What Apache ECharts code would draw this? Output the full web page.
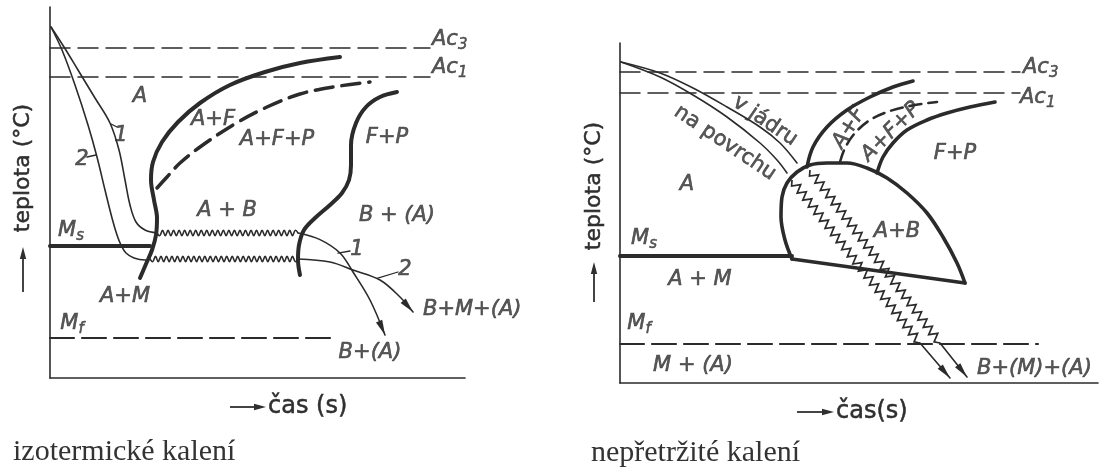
<!DOCTYPE html>
<html>
<head>
<meta charset="utf-8">
<script src="https://cdn.jsdelivr.net/npm/echarts@6/dist/echarts.min.js"></script>
<style>
  html, body { margin: 0; padding: 0; background: #ffffff; }
  #chart { width: 1102px; height: 467px; }
</style>
</head>
<body>
<div id="chart"></div>
<script>
// ---------- Isothermal quenching (left diagram): time [s], temperature [°C] ----------
const isoAc3 = [[0, 825], [380, 825]];
const isoAc1 = [[0, 752.5], [380, 752.5]];
const isoMs = [[0, 330], [100, 330]];
const isoMf = [[0, 100], [280, 100]];
// cooling curve 1 (core) and 2 (surface) down to the holding temperature
const isoCool1 = [[1, 877.5], [14, 827.5], [28, 770], [45, 700], [60, 637.5], [69, 570], [75, 495], [80, 432.5], [86, 390], [95, 370], [107, 362.5]];
const isoCool2 = [[1, 877.5], [12, 820], [25, 732.5], [38, 632.5], [47, 552.5], [55, 470], [62, 400], [67, 357.5], [71, 332.5], [76, 312.5], [84, 300], [95, 295], [100, 297.5]];
// isothermal holds (drawn wavy) [t0, T0, t1, T1]
const isoHolds = [[107, 362.5, 248, 362.5], [100, 297.5, 248, 297.5]];
// final cooling after the hold
const isoTail1 = [[248, 362.5], [270, 346], [290, 312.5], [303, 265], [320, 195], [335, 107.5]];
const isoTail2 = [[248, 297.5], [280, 290], [303, 270], [330, 245], [350, 202.5], [363, 165]];
// transformation start / finish lines
const isoFerrite = [[290, 802.5], [250, 787.5], [215, 765], [180, 732.5], [150, 687.5], [128, 640], [112, 590], [103, 540], [101, 495], [104, 445], [107, 400], [106, 357.5], [102, 320], [96, 285], [90, 250]];
const isoPearlite = [[107, 475], [117, 502.5], [130, 537.5], [150, 577.5], [183, 632.5], [217, 677.5], [250, 710], [283, 727.5], [320, 740]];
const isoBainite = [[347, 715], [330, 702.5], [316, 677.5], [306, 637.5], [301, 582.5], [301, 532.5], [299, 495], [292, 462.5], [280, 432.5], [265, 400], [254, 370], [249, 332.5], [248, 295], [250, 257.5]];
// curve number leaders
const isoLeaders = [
  [[61, 635], [67, 627.5]],
  [[46, 557.5], [37, 552.5]],
  [[288, 312], [300, 317.5]],
  [[327, 249], [348, 265]]
];
// region labels [text, t, T]
const isoLabels = [
  ['A', 90, 702.5], ['1', 71, 605], ['2', 32, 545],
  ['A+F', 163, 645], ['A+F+P', 227, 595], ['F+P', 337, 600],
  ['A + B', 177, 417.5], ['B + (A)', 347, 405],
  ['M_s', 21, 367.5], ['A+M', 75, 202.5], ['M_f', 22, 135],
  ['B+(A)', 320, 62.5], ['1', 307, 320], ['2', 355, 270]
];
const isoLabelsLeft = [['Ac_3', 382, 845], ['Ac_1', 382, 775], ['B+M+(A)', 373, 170]];

// ---------- Continuous quenching (right diagram) ----------
const conAc3 = [[0, 777.5], [400, 777.5]];
const conAc1 = [[0, 725], [400, 725]];
const conMs = [[0, 317.5], [172, 317.5]];
const conMf = [[0, 97.5], [418, 97.5]];
const conCore = [[1, 802.5], [40, 775], [73, 737.5], [107, 690], [140, 640], [160, 600], [177, 550]];
const conSurface = [[1, 802.5], [40, 765], [73, 720], [107, 665], [140, 600], [157, 557.5], [167, 525]];
// cooling through the bainite field (drawn zig-zag) [t0, T0, t1, T1]
const conPaths = [[172, 507.5, 300, 100], [190, 532.5, 320, 100]];
const conTail1 = [[300, 100], [330, 12.5]];
const conTail2 = [[320, 100], [347, 15]];
const conBainiteArc = [[172, 310], [165, 357.5], [161, 415], [162, 465], [167, 500], [177, 527.5], [190, 545], [207, 550], [227, 550], [247, 537.5], [267, 512.5], [287, 475], [307, 425], [323, 365], [337, 300], [345, 250]];
const conBainiteBase = [[345, 250], [172, 310]];
const conFerrite = [[187, 540], [193, 590], [207, 640], [227, 682.5], [250, 715], [273, 740], [293, 755]];
const conPearlite = [[220, 552.5], [225, 587.5], [235, 625], [250, 657.5], [270, 680], [295, 695], [317, 702.5]];
const conPearliteEnd = [[257, 525], [263, 565], [273, 600], [287, 632.5], [307, 657.5], [327, 675], [350, 690], [375, 702.5]];
const conLabels = [
  ['A', 67, 495], ['M_s', 24, 360], ['A + M', 80, 257.5], ['M_f', 19, 147.5],
  ['M + (A)', 73, 42.5], ['A+B', 277, 377.5], ['F+P', 335, 572.5]
];
const conLabelsLeft = [['B+(M)+(A)', 357, 35], ['Ac_3', 403, 787.5], ['Ac_1', 400, 712.5]];
// rotated labels [text, t, T, angle]
const conLabelsRot = [
  ['A+F', 229, 637.5, 58], ['A+F+P', 271, 627.5, 45],
  ['v jádru', 145, 655, -34], ['na povrchu', 105, 600, -34]
];

// ---------- drawing ----------
const INK = '#2b2b2b';
const TXT = '#2f2f2f';
const SANS = '"DejaVu Sans", sans-serif';
const SERIF = '"Liberation Serif", "DejaVu Serif", serif';

function curve(g, data, width, opts) {
  opts = opts || {};
  return {
    type: 'line', xAxisIndex: g, yAxisIndex: g, data: data,
    symbol: 'none', smooth: opts.smooth === undefined ? 0.35 : opts.smooth,
    lineStyle: { color: INK, width: width, type: opts.dash || 'solid', cap: 'round', join: 'round' },
    silent: true, z: opts.z || 3
  };
}

// wavy / zig-zag stroke between two data points
function wave(g, data, period, amp, width, smooth) {
  return {
    type: 'custom', xAxisIndex: g, yAxisIndex: g, data: data, silent: true, z: 3,
    encode: { x: [0, 2], y: [1, 3] },
    renderItem: function (params, api) {
      const a = api.coord([api.value(0), api.value(1)]);
      const b = api.coord([api.value(2), api.value(3)]);
      const dx = b[0] - a[0], dy = b[1] - a[1];
      const L = Math.hypot(dx, dy);
      const ux = dx / L, uy = dy / L, nx = -uy, ny = ux;
      const n = Math.max(2, Math.round(L / (period / 2)));
      const pts = [];
      for (let i = 0; i <= n; i++) {
        const t = i * L / n;
        const s = (i === 0 || i === n) ? 0 : (i % 2 ? amp : -amp);
        pts.push([a[0] + ux * t + nx * s, a[1] + uy * t + ny * s]);
      }
      return { type: 'polyline', shape: { points: pts, smooth: smooth }, style: { stroke: INK, lineWidth: width, fill: null, lineJoin: 'miter' } };
    }
  };
}

// arrow heads at the ends of cooling curves
function heads(g, tails) {
  const data = tails.map(function (p) { const a = p[p.length - 2], b = p[p.length - 1]; return [a[0], a[1], b[0], b[1]]; });
  return {
    type: 'custom', xAxisIndex: g, yAxisIndex: g, data: data, silent: true, z: 4,
    encode: { x: [0, 2], y: [1, 3] },
    renderItem: function (params, api) {
      const a = api.coord([api.value(0), api.value(1)]);
      const b = api.coord([api.value(2), api.value(3)]);
      const dx = b[0] - a[0], dy = b[1] - a[1];
      const L = Math.hypot(dx, dy);
      const ux = dx / L, uy = dy / L, nx = -uy, ny = ux;
      const len = 15, w = 3.4;
      const cx = b[0] - ux * len, cy = b[1] - uy * len;
      return { type: 'polygon', shape: { points: [[b[0], b[1]], [cx + nx * w, cy + ny * w], [cx - nx * w, cy - ny * w]] }, style: { fill: INK } };
    }
  };
}

function labels(g, items, align, italic) {
  return {
    type: 'scatter', xAxisIndex: g, yAxisIndex: g, symbolSize: 0, silent: true, z: 5,
    data: items.map(function (d) {
      const item = { name: d[0], value: [d[1], d[2]] };
      if (d.length > 3) item.label = { rotate: d[3] };
      return item;
    }),
    label: {
      show: true, position: 'inside', align: align || 'center', verticalAlign: 'middle',
      color: TXT, fontSize: 21, fontFamily: SANS, fontStyle: italic === false ? 'normal' : 'italic',
      textBorderColor: TXT, textBorderWidth: 0.6,
      lineHeight: 26,
      formatter: function (p) { return p.name.replace(/_(\w+)/g, '{s|$1}'); },
      rich: { s: { fontSize: 15, lineHeight: 12, verticalAlign: 'bottom', color: TXT, textBorderColor: TXT, textBorderWidth: 0.5, fontFamily: SANS, fontStyle: 'italic' } }
    }
  };
}

function axisPair(g, xmax, ymax) {
  return {
    x: { type: 'value', gridIndex: g, min: 0, max: xmax, position: 'bottom',
      axisLine: { show: true, onZero: false, lineStyle: { color: INK, width: 1.6 } },
      axisTick: { show: false }, axisLabel: { show: false }, splitLine: { show: false } },
    y: { type: 'value', gridIndex: g, min: 0, max: ymax, position: 'left',
      axisLine: { show: true, onZero: false, lineStyle: { color: INK, width: 1.6 } },
      axisTick: { show: false }, axisLabel: { show: false }, splitLine: { show: false } }
  };
}

const a0 = axisPair(0, 415, 927.5);
const a1 = axisPair(1, 478, 850);

function arrowGraphic(x1, y1, x2, y2) {
  const dx = x2 - x1, dy = y2 - y1, L = Math.hypot(dx, dy);
  const ux = dx / L, uy = dy / L, nx = -uy, ny = ux;
  const len = 12, w = 3.2;
  const cx = x2 - ux * len, cy = y2 - uy * len;
  return [
    { type: 'line', shape: { x1: x1, y1: y1, x2: cx, y2: cy }, style: { stroke: TXT, lineWidth: 1.8 } },
    { type: 'polygon', shape: { points: [[x2, y2], [cx + nx * w, cy + ny * w], [cx - nx * w, cy - ny * w]] }, style: { fill: TXT } }
  ];
}

const titleFont = { fill: TXT, fontSize: 22, fontFamily: SANS, stroke: TXT, lineWidth: 0.5 };
const xTitleFont = { fill: TXT, fontSize: 24, fontFamily: SANS, stroke: TXT, lineWidth: 0.5 };
const graphics = [].concat(
  arrowGraphic(23, 292, 23, 247),
  arrowGraphic(594, 302, 594, 262),
  arrowGraphic(230, 407, 266, 407),
  arrowGraphic(797, 412, 834, 412),
  [
    { type: 'text', x: 23, y: 168, rotation: Math.PI / 2, style: Object.assign({ text: 'teplota (°C)', align: 'center', verticalAlign: 'middle' }, titleFont) },
    { type: 'text', x: 594, y: 186, rotation: Math.PI / 2, style: Object.assign({ text: 'teplota (°C)', align: 'center', verticalAlign: 'middle' }, titleFont) },
    { type: 'text', x: 268, y: 407, style: Object.assign({ text: 'čas (s)', align: 'left', verticalAlign: 'middle' }, xTitleFont) },
    { type: 'text', x: 836, y: 412, style: Object.assign({ text: 'čas(s)', align: 'left', verticalAlign: 'middle' }, xTitleFont) },
    { type: 'text', x: 13, y: 452, style: { text: 'izotermické kalení', align: 'left', verticalAlign: 'middle', fill: '#333', fontSize: 30, fontFamily: SERIF } },
    { type: 'text', x: 591, y: 453, style: { text: 'nepřetržité kalení', align: 'left', verticalAlign: 'middle', fill: '#333', fontSize: 30, fontFamily: SERIF } }
  ]
);

const series = [
  // left diagram
  curve(0, isoAc3, 1.5, { dash: [20, 8], smooth: false }),
  curve(0, isoAc1, 1.5, { dash: [20, 8], smooth: false }),
  curve(0, isoMs, 4, { smooth: false }),
  curve(0, isoMf, 2.2, { dash: [24, 8], smooth: false }),
  curve(0, isoCool1, 1.6),
  curve(0, isoCool2, 1.6),
  wave(0, isoHolds, 5.5, 2.6, 1.6, 0.4),
  curve(0, isoTail1, 1.6),
  curve(0, isoTail2, 1.6),
  heads(0, [isoTail1, isoTail2]),
  curve(0, isoFerrite, 4),
  curve(0, isoPearlite, 3.5, { dash: [18, 9] }),
  curve(0, isoBainite, 4)
].concat(
  isoLeaders.map(function (d) { return curve(0, d, 1.3, { smooth: false }); }),
  [
    labels(0, isoLabels),
    labels(0, isoLabelsLeft, 'left'),
    // right diagram
    curve(1, conAc3, 1.5, { dash: [20, 8], smooth: false }),
    curve(1, conAc1, 1.5, { dash: [20, 8], smooth: false }),
    curve(1, conMs, 4, { smooth: false }),
    curve(1, conMf, 2.2, { dash: [24, 8], smooth: false }),
    curve(1, conCore, 1.6),
    curve(1, conSurface, 1.6),
    wave(1, conPaths, 9, 4, 1.7, 0),
    curve(1, conTail1, 1.6, { smooth: false }),
    curve(1, conTail2, 1.6, { smooth: false }),
    heads(1, [conTail1, conTail2]),
    curve(1, conBainiteArc, 3.6),
    curve(1, conBainiteBase, 3.6, { smooth: false }),
    curve(1, conFerrite, 3.6),
    curve(1, conPearlite, 2.6, { dash: [12, 7] }),
    curve(1, conPearliteEnd, 3.6),
    labels(1, conLabels),
    labels(1, conLabelsLeft, 'left'),
    labels(1, conLabelsRot.slice(0, 2)),
    labels(1, conLabelsRot.slice(2), 'center', false)
  ]
);

const chart = echarts.init(document.getElementById('chart'), null, { renderer: 'canvas' });
chart.setOption({
  backgroundColor: '#ffffff',
  animation: false,
  grid: [
    { left: 50, top: 7, width: 415, height: 371 },
    { left: 620, top: 43, width: 478, height: 340 }
  ],
  xAxis: [a0.x, a1.x],
  yAxis: [a0.y, a1.y],
  series: series,
  graphic: graphics
});
</script>
</body>
</html>
